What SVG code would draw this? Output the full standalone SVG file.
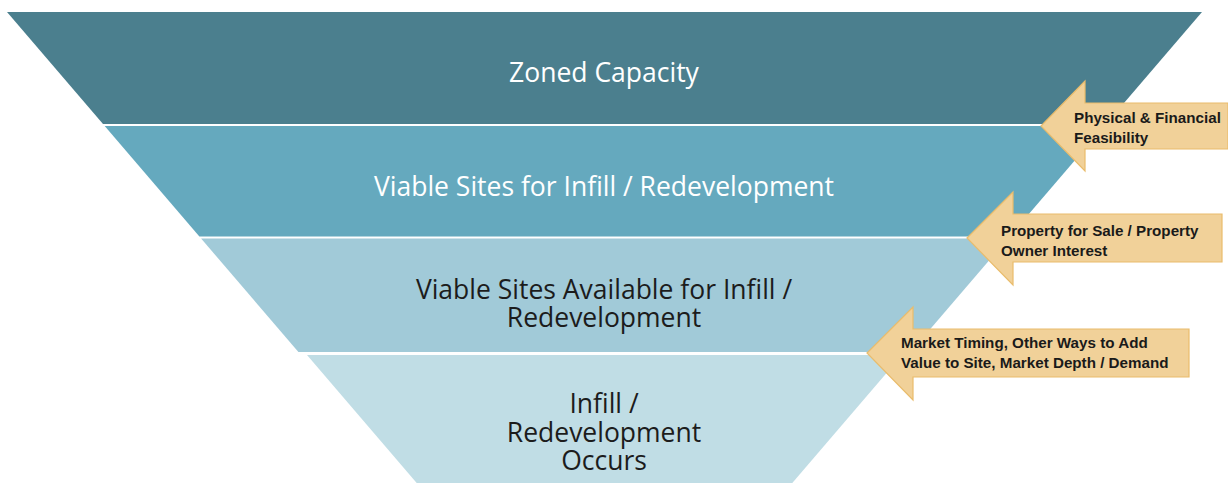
<svg xmlns="http://www.w3.org/2000/svg" width="1228" height="483" viewBox="0 0 1228 483">
  <style>
    .lbl { font-family: "Open Sans", "Liberation Sans", sans-serif; font-size: 26.5px; text-anchor: middle; }
    .light { fill: #ffffff; }
    .dark { fill: #1c1c1c; }
    .arrow { fill: #F1D199; stroke: #E9BC6C; stroke-width: 1.2; }
    .atxt { font-family: "Liberation Sans", Arial, sans-serif; font-size: 15.2px; font-weight: bold; fill: #1a1a1a; }
  </style>
  <rect width="1228" height="483" fill="#ffffff"/>
  <g id="band-zoned-capacity">
    <polygon points="7,12 1202,12 1106,124 103,124" fill="#4B7F8E"/>
    <text class="lbl light" x="604" y="82">Zoned Capacity</text>
  </g>
  <g id="band-viable-sites">
    <polygon points="104.7,126 1104.3,126 1009.6,236.5 199.4,236.5" fill="#65A9BE"/>
    <text class="lbl light" x="604" y="196">Viable Sites for Infill / Redevelopment</text>
  </g>
  <g id="band-viable-available">
    <polygon points="201.1,238.5 1007.9,238.5 910.6,352 298.4,352" fill="#A1CAD8"/>
    <text class="lbl dark" x="604" y="299">Viable Sites Available for Infill /</text>
    <text class="lbl dark" x="604" y="327">Redevelopment</text>
  </g>
  <g id="band-occurs">
    <polygon points="307,355 902,355 792.3,483 416.7,483" fill="#C0DDE5"/>
    <text class="lbl dark" x="604" y="413">Infill /</text>
    <text class="lbl dark" x="604" y="442">Redevelopment</text>
    <text class="lbl dark" x="604" y="470">Occurs</text>
  </g>
  <g id="connectors"/>
  <g id="arrow-feasibility">
    <polygon class="arrow" points="1041,126 1085,81 1085,103 1228,103 1228,149 1085,149 1085,171"/>
    <text class="atxt" x="1074" y="123">Physical &amp; Financial</text>
    <text class="atxt" x="1074" y="143">Feasibility</text>
  </g>
  <g id="arrow-property">
    <polygon class="arrow" points="967,238 1013,192 1013,214 1222,214 1222,262 1013,262 1013,285"/>
    <text class="atxt" x="1001" y="236">Property for Sale / Property</text>
    <text class="atxt" x="1001" y="256">Owner Interest</text>
  </g>
  <g id="arrow-market">
    <polygon class="arrow" points="867,353 913,307 913,329 1189,329 1189,377 913,377 913,400"/>
    <text class="atxt" x="901" y="348">Market Timing, Other Ways to Add</text>
    <text class="atxt" x="901" y="368">Value to Site, Market Depth / Demand</text>
  </g>
</svg>
